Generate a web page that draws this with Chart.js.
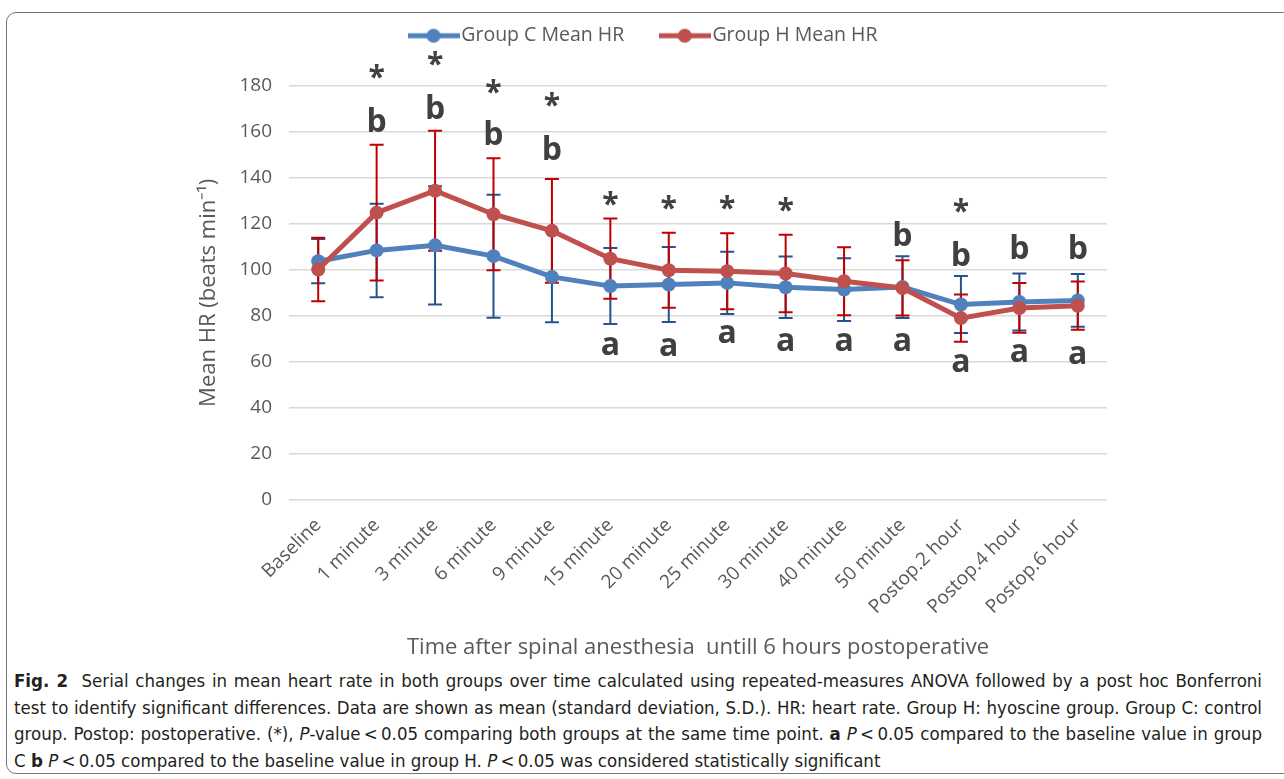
<!DOCTYPE html>
<html>
<head>
<meta charset="utf-8">
<script src="https://cdn.jsdelivr.net/npm/chart.js@4"></script>
<style>
  body { margin: 0; background: #fff; width: 1284px; height: 779px; overflow: hidden; position: relative; }
  #frame { position: absolute; left: 6px; top: 12px; width: 1300px; height: 762px; border: 1.5px solid #777; border-radius: 10px; box-sizing: border-box; }
  #miGrafico { position: absolute; left: 0; top: 0; }
  #caption { position: absolute; left: 14px; top: 668px; width: 1248px; font-family: "DejaVu Sans Condensed", "DejaVu Sans", sans-serif; font-stretch: condensed; font-size: 18.5px; color: #231f20; }
  #caption div { height: 26.7px; line-height: 26.7px; text-align: justify; text-align-last: justify; white-space: nowrap; }
  #caption div.last { text-align-last: left; }
</style>
</head>
<body>
<div id="frame"></div>
<canvas id="miGrafico" width="1284" height="668"></canvas>
<div id="caption">
  <div><b>Fig. 2</b>&nbsp; Serial changes in mean heart rate in both groups over time calculated using repeated-measures ANOVA followed by a post hoc Bonferroni</div>
  <div>test to identify significant differences. Data are shown as mean (standard deviation, S.D.). HR: heart rate. Group H: hyoscine group. Group C: control</div>
  <div>group. Postop: postoperative. (*), <i>P</i>-value&thinsp;&lt;&thinsp;0.05 comparing both groups at the same time point. <b>a</b> <i>P</i>&thinsp;&lt;&thinsp;0.05 compared to the baseline value in group</div>
  <div class="last">C <b>b</b> <i>P</i>&thinsp;&lt;&thinsp;0.05 compared to the baseline value in group H. <i>P</i>&thinsp;&lt;&thinsp;0.05 was considered statistically significant</div>
</div>
<script>
const momentos = ["Baseline", "1 minute", "3 minute", "6 minute", "9 minute", "15 minute", "20 minute",
  "25 minute", "30 minute", "40 minute", "50 minute", "Postop.2 hour", "Postop.4 hour", "Postop.6 hour"];
const grupoC = [103.7, 108.4, 110.6, 105.9, 96.9, 92.9, 93.6, 94.3, 92.4, 91.4, 92.5, 84.9, 86.0, 86.7];
const grupoC_de = [9.6, 20.3, 25.7, 26.7, 19.7, 16.5, 16.3, 13.5, 13.3, 13.6, 13.4, 12.4, 12.4, 11.5];
const grupoH = [100.1, 124.8, 134.3, 124.1, 116.9, 104.8, 99.8, 99.4, 98.4, 95.0, 92.1, 79.0, 83.4, 84.4];
const grupoH_de = [13.8, 29.5, 26.1, 24.3, 22.5, 17.4, 16.3, 16.5, 16.8, 14.8, 12.0, 10.3, 10.8, 10.5];
const yTicks = [0, 20, 40, 60, 80, 100, 120, 140, 160, 180];

// marcas de significancia (valor del eje Y donde se coloca cada una)
const marcaAsterisco = [null, 186.6, 192.2, 180.0, 174.4, 131.2, 129.5, 129.5, 128.6, null, null, 128.2, null, null];
const marcaB = [null, 164.8, 170.4, 159.1, 152.6, null, null, null, null, null, 115.5, 106.8, 109.9, 109.9];
const marcaA = [null, null, null, null, null, 66.7, 66.3, 71.9, 68.4, 68.4, 68.4, 59.3, 63.6, 62.8];

const azul = "#4F81BD";
const rojo = "#C0504D";

// icono de leyenda: línea con punto
function iconoLeyenda(color) {
  const c = document.createElement("canvas");
  c.width = 52; c.height = 16;
  const g = c.getContext("2d");
  g.strokeStyle = color; g.lineWidth = 5;
  g.beginPath(); g.moveTo(0, 8); g.lineTo(52, 8); g.stroke();
  g.fillStyle = color;
  g.beginPath(); g.arc(26, 8, 7, 0, Math.PI * 2); g.fill();
  return c;
}

// barras de error dibujadas con las escalas del gráfico
const barrasError = {
  id: "barrasError",
  beforeDatasetsDraw(chart) {
    const ctx = chart.ctx;
    const x = chart.scales.x, y = chart.scales.y;
    const series = [[grupoC, grupoC_de, "#24538F"], [grupoH, grupoH_de, "#C00000"]];
    ctx.save();
    series.forEach(([medias, de, color]) => {
      ctx.strokeStyle = color;
      ctx.lineWidth = 2;
      medias.forEach((m, i) => {
        const px = x.getPixelForValue(i);
        const top = y.getPixelForValue(m + de[i]);
        const bot = y.getPixelForValue(m - de[i]);
        ctx.beginPath();
        ctx.moveTo(px, top); ctx.lineTo(px, bot);
        ctx.moveTo(px - 7, top); ctx.lineTo(px + 7, top);
        ctx.moveTo(px - 7, bot); ctx.lineTo(px + 7, bot);
        ctx.stroke();
      });
    });
    ctx.restore();
  },
};

// letras de significancia (*, a, b)
const marcas = {
  id: "marcas",
  afterDatasetsDraw(chart) {
    const ctx = chart.ctx;
    const x = chart.scales.x, y = chart.scales.y;
    ctx.save();
    ctx.fillStyle = "#404040";
    ctx.textAlign = "center";
    ctx.textBaseline = "alphabetic";
    const dibujar = (lista, texto, size, k) => {
      ctx.font = "bold " + size + "px 'Open Sans'";
      lista.forEach((v, i) => {
        if (v === null) return;
        ctx.fillText(texto, x.getPixelForValue(i), y.getPixelForValue(v) + k * size);
      });
    };
    dibujar(marcaAsterisco, "*", 30, 0.55);
    dibujar(marcaB, "b", 32, 0.37);
    dibujar(marcaA, "a", 32, 0.27);
    ctx.restore();
  },
};

// separación extra bajo la leyenda
const margenLeyenda = {
  id: "margenLeyenda",
  beforeInit(chart) {
    const fitOriginal = chart.legend.fit;
    chart.legend.fit = function () {
      fitOriginal.bind(chart.legend)();
      this.height += 30;
    };
  },
};

const ctx = document.getElementById("miGrafico").getContext("2d");

const miGrafico = new Chart(ctx, {
  type: "line",
  data: {
    labels: momentos,
    datasets: [
      {
        label: "Group C Mean HR",
        data: grupoC,
        borderColor: azul,
        backgroundColor: azul,
        borderWidth: 5,
        pointRadius: 7,
        pointBorderWidth: 0,
        order: 1,
      },
      {
        label: "Group H Mean HR",
        data: grupoH,
        borderColor: rojo,
        backgroundColor: rojo,
        borderWidth: 5,
        pointRadius: 7,
        pointBorderWidth: 0,
        order: 0,
      },
    ],
  },
  options: {
    responsive: false,
    animation: false,
    layout: { padding: { top: 16, left: 186, right: 177, bottom: 4 } },
    scales: {
      x: {
        offset: true,
        grid: { display: false, drawTicks: false },
        border: { display: false },
        ticks: {
          minRotation: 45,
          maxRotation: 45,
          padding: 14,
          color: "#595959",
          font: { family: "'Open Sans'", size: 19 },
        },
        title: {
          display: true,
          text: "Time after spinal anesthesia  untill 6 hours postoperative",
          color: "#595959",
          font: { family: "'Open Sans'", size: 22 },
          padding: { top: 2, bottom: 3 },
        },
      },
      y: {
        min: 0,
        max: 180,
        afterBuildTicks(scale) { scale.ticks = yTicks.map((v) => ({ value: v })); },
        grid: { color: "#D9D9D9", lineWidth: 1.5, drawTicks: false },
        border: { display: false },
        ticks: {
          padding: 17,
          color: "#595959",
          font: { family: "'Open Sans'", size: 19 },
        },
        title: {
          display: true,
          text: "Mean HR (beats min\u207B\u00B9)",
          color: "#595959",
          font: { family: "'Open Sans'", size: 22 },
          padding: { top: 10, bottom: 0 },
        },
      },
    },
    plugins: {
      legend: {
        display: true,
        position: "top",
        labels: {
          usePointStyle: true,
          pointStyleWidth: 36,
          padding: 10,
          color: "#595959",
          font: { family: "'Open Sans'", size: 19.5 },
          sort: (a, b) => a.datasetIndex - b.datasetIndex,
          generateLabels(chart) {
            const items = Chart.defaults.plugins.legend.labels.generateLabels(chart);
            items.forEach((it) => {
              it.pointStyle = iconoLeyenda(it.datasetIndex === 0 ? azul : rojo);
              if (it.datasetIndex === 0) it.text += "\u2003\u2002\u2009";
            });
            return items;
          },
        },
      },
      tooltip: { enabled: false },
    },
  },
  plugins: [barrasError, marcas, margenLeyenda],
});
</script>
</body>
</html>
